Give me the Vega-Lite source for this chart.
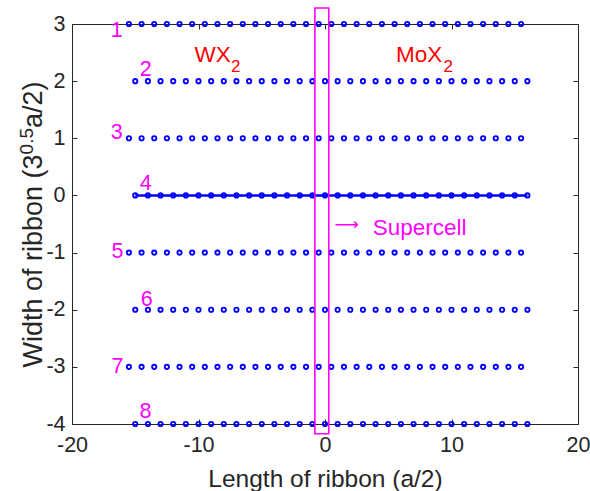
{
"$schema": "https://vega.github.io/schema/vega-lite/v6.json",
"width": 506, "height": 400,
"autosize": {"type": "none"},
"padding": {"left": 72, "top": 24, "right": 12, "bottom": 67},
"background": "white",
"config": {
 "view": {"stroke": null},
 "font": "Liberation Sans",
 "axis": {"grid": false, "domainColor": "#262626", "domainWidth": 1, "tickColor": "#262626", "tickWidth": 1, "tickSize": -5,
  "labelColor": "#262626", "labelFont": "Liberation Sans", "labelFontSize": 21.5, "titleFont": "Liberation Sans", "titleFontSize": 24.5,
  "titleFontWeight": "normal", "titleColor": "#262626", "labelFlush": false, "labelOverlap": false, "labelExpr": "'' + datum.value"}
},
"datasets": {
 "atoms": [
{"x":-15.5,"y":3},{"x":-14.5,"y":3},{"x":-13.5,"y":3},{"x":-12.5,"y":3},{"x":-11.5,"y":3},{"x":-10.5,"y":3},{"x":-9.5,"y":3},{"x":-8.5,"y":3},{"x":-7.5,"y":3},{"x":-6.5,"y":3},{"x":-5.5,"y":3},{"x":-4.5,"y":3},{"x":-3.5,"y":3},{"x":-2.5,"y":3},{"x":-1.5,"y":3},{"x":-0.5,"y":3},{"x":0.5,"y":3},{"x":1.5,"y":3},{"x":2.5,"y":3},{"x":3.5,"y":3},{"x":4.5,"y":3},{"x":5.5,"y":3},{"x":6.5,"y":3},{"x":7.5,"y":3},{"x":8.5,"y":3},{"x":9.5,"y":3},{"x":10.5,"y":3},{"x":11.5,"y":3},{"x":12.5,"y":3},{"x":13.5,"y":3},{"x":14.5,"y":3},{"x":15.5,"y":3},
{"x":-15,"y":2},{"x":-14,"y":2},{"x":-13,"y":2},{"x":-12,"y":2},{"x":-11,"y":2},{"x":-10,"y":2},{"x":-9,"y":2},{"x":-8,"y":2},{"x":-7,"y":2},{"x":-6,"y":2},{"x":-5,"y":2},{"x":-4,"y":2},{"x":-3,"y":2},{"x":-2,"y":2},{"x":-1,"y":2},{"x":0,"y":2},{"x":1,"y":2},{"x":2,"y":2},{"x":3,"y":2},{"x":4,"y":2},{"x":5,"y":2},{"x":6,"y":2},{"x":7,"y":2},{"x":8,"y":2},{"x":9,"y":2},{"x":10,"y":2},{"x":11,"y":2},{"x":12,"y":2},{"x":13,"y":2},{"x":14,"y":2},{"x":15,"y":2},{"x":16,"y":2},
{"x":-15.5,"y":1},{"x":-14.5,"y":1},{"x":-13.5,"y":1},{"x":-12.5,"y":1},{"x":-11.5,"y":1},{"x":-10.5,"y":1},{"x":-9.5,"y":1},{"x":-8.5,"y":1},{"x":-7.5,"y":1},{"x":-6.5,"y":1},{"x":-5.5,"y":1},{"x":-4.5,"y":1},{"x":-3.5,"y":1},{"x":-2.5,"y":1},{"x":-1.5,"y":1},{"x":-0.5,"y":1},{"x":0.5,"y":1},{"x":1.5,"y":1},{"x":2.5,"y":1},{"x":3.5,"y":1},{"x":4.5,"y":1},{"x":5.5,"y":1},{"x":6.5,"y":1},{"x":7.5,"y":1},{"x":8.5,"y":1},{"x":9.5,"y":1},{"x":10.5,"y":1},{"x":11.5,"y":1},{"x":12.5,"y":1},{"x":13.5,"y":1},{"x":14.5,"y":1},{"x":15.5,"y":1},
{"x":-15,"y":0},{"x":-14,"y":0},{"x":-13,"y":0},{"x":-12,"y":0},{"x":-11,"y":0},{"x":-10,"y":0},{"x":-9,"y":0},{"x":-8,"y":0},{"x":-7,"y":0},{"x":-6,"y":0},{"x":-5,"y":0},{"x":-4,"y":0},{"x":-3,"y":0},{"x":-2,"y":0},{"x":-1,"y":0},{"x":0,"y":0},{"x":1,"y":0},{"x":2,"y":0},{"x":3,"y":0},{"x":4,"y":0},{"x":5,"y":0},{"x":6,"y":0},{"x":7,"y":0},{"x":8,"y":0},{"x":9,"y":0},{"x":10,"y":0},{"x":11,"y":0},{"x":12,"y":0},{"x":13,"y":0},{"x":14,"y":0},{"x":15,"y":0},{"x":16,"y":0},
{"x":-15.5,"y":-1},{"x":-14.5,"y":-1},{"x":-13.5,"y":-1},{"x":-12.5,"y":-1},{"x":-11.5,"y":-1},{"x":-10.5,"y":-1},{"x":-9.5,"y":-1},{"x":-8.5,"y":-1},{"x":-7.5,"y":-1},{"x":-6.5,"y":-1},{"x":-5.5,"y":-1},{"x":-4.5,"y":-1},{"x":-3.5,"y":-1},{"x":-2.5,"y":-1},{"x":-1.5,"y":-1},{"x":-0.5,"y":-1},{"x":0.5,"y":-1},{"x":1.5,"y":-1},{"x":2.5,"y":-1},{"x":3.5,"y":-1},{"x":4.5,"y":-1},{"x":5.5,"y":-1},{"x":6.5,"y":-1},{"x":7.5,"y":-1},{"x":8.5,"y":-1},{"x":9.5,"y":-1},{"x":10.5,"y":-1},{"x":11.5,"y":-1},{"x":12.5,"y":-1},{"x":13.5,"y":-1},{"x":14.5,"y":-1},{"x":15.5,"y":-1},
{"x":-15,"y":-2},{"x":-14,"y":-2},{"x":-13,"y":-2},{"x":-12,"y":-2},{"x":-11,"y":-2},{"x":-10,"y":-2},{"x":-9,"y":-2},{"x":-8,"y":-2},{"x":-7,"y":-2},{"x":-6,"y":-2},{"x":-5,"y":-2},{"x":-4,"y":-2},{"x":-3,"y":-2},{"x":-2,"y":-2},{"x":-1,"y":-2},{"x":0,"y":-2},{"x":1,"y":-2},{"x":2,"y":-2},{"x":3,"y":-2},{"x":4,"y":-2},{"x":5,"y":-2},{"x":6,"y":-2},{"x":7,"y":-2},{"x":8,"y":-2},{"x":9,"y":-2},{"x":10,"y":-2},{"x":11,"y":-2},{"x":12,"y":-2},{"x":13,"y":-2},{"x":14,"y":-2},{"x":15,"y":-2},{"x":16,"y":-2},
{"x":-15.5,"y":-3},{"x":-14.5,"y":-3},{"x":-13.5,"y":-3},{"x":-12.5,"y":-3},{"x":-11.5,"y":-3},{"x":-10.5,"y":-3},{"x":-9.5,"y":-3},{"x":-8.5,"y":-3},{"x":-7.5,"y":-3},{"x":-6.5,"y":-3},{"x":-5.5,"y":-3},{"x":-4.5,"y":-3},{"x":-3.5,"y":-3},{"x":-2.5,"y":-3},{"x":-1.5,"y":-3},{"x":-0.5,"y":-3},{"x":0.5,"y":-3},{"x":1.5,"y":-3},{"x":2.5,"y":-3},{"x":3.5,"y":-3},{"x":4.5,"y":-3},{"x":5.5,"y":-3},{"x":6.5,"y":-3},{"x":7.5,"y":-3},{"x":8.5,"y":-3},{"x":9.5,"y":-3},{"x":10.5,"y":-3},{"x":11.5,"y":-3},{"x":12.5,"y":-3},{"x":13.5,"y":-3},{"x":14.5,"y":-3},{"x":15.5,"y":-3},
{"x":-15,"y":-4},{"x":-14,"y":-4},{"x":-13,"y":-4},{"x":-12,"y":-4},{"x":-11,"y":-4},{"x":-10,"y":-4},{"x":-9,"y":-4},{"x":-8,"y":-4},{"x":-7,"y":-4},{"x":-6,"y":-4},{"x":-5,"y":-4},{"x":-4,"y":-4},{"x":-3,"y":-4},{"x":-2,"y":-4},{"x":-1,"y":-4},{"x":0,"y":-4},{"x":1,"y":-4},{"x":2,"y":-4},{"x":3,"y":-4},{"x":4,"y":-4},{"x":5,"y":-4},{"x":6,"y":-4},{"x":7,"y":-4},{"x":8,"y":-4},{"x":9,"y":-4},{"x":10,"y":-4},{"x":11,"y":-4},{"x":12,"y":-4},{"x":13,"y":-4},{"x":14,"y":-4},{"x":15,"y":-4},{"x":16,"y":-4}
 ],
 "rowLabels": [{"x":-16.47,"y":2.78,"t":"1"},{"x":-14.17,"y":2.09,"t":"2"},{"x":-16.47,"y":0.98,"t":"3"},{"x":-14.17,"y":0.09,"t":"4"},{"x":-16.4,"y":-1.1,"t":"5"},{"x":-14.1,"y":-1.93,"t":"6"},{"x":-16.4,"y":-3.11,"t":"7"},{"x":-14.2,"y":-3.9,"t":"8"}],
 "materials": [{"x":-8.88,"y":2.34,"t":"WX"},{"x":7.45,"y":2.34,"t":"MoX"}],
 "materialSubs": [{"x":-7.06,"y":2.155,"t":"2"},{"x":9.75,"y":2.155,"t":"2"}],
 "supercell": [{"x1":-0.8,"x2":0.3,"y1":-4.17,"y2":3.28}],
 "supercellArrow": [{"x":0.75,"y":-0.6,"t":"⟶"}],
 "supercellLabel": [{"x":3.77,"y":-0.69,"t":"Supercell"}],
 "yTitleMain": [{"x":-22.37,"y":0.718,"t":"Width of ribbon (3"}],
 "yTitleSup": [{"x":-23.08,"y":0.718,"t":"0.5"}],
 "yTitleEnd": [{"x":-22.37,"y":1.18,"t":"a/2)"}]
},
"encoding": {
 "x": {"field": "x", "type": "quantitative", "scale": {"domain": [-20, 20], "nice": false, "zero": false}, "axis": null},
 "y": {"field": "y", "type": "quantitative", "scale": {"domain": [-4, 3], "nice": false, "zero": false}, "axis": null}
},
"layer": [
 {"data": {"name": "atoms"}, "transform": [{"filter": "datum.y == 0"}],
  "mark": {"type": "line", "color": "#0000ff", "strokeWidth": 2.5}},
 {"data": {"name": "atoms"},
  "mark": {"type": "point", "shape": "circle", "filled": false, "stroke": "#0000ff", "strokeWidth": 1.9, "size": 18, "opacity": 1},
  "encoding": {
   "x": {"field": "x", "type": "quantitative", "scale": {"domain": [-20, 20], "nice": false, "zero": false},
    "axis": {"orient": "bottom", "values": [-20, -10, 0, 10, 20], "title": "Length of ribbon (a/2)", "labelPadding": 15, "titleY": 62, "titleBaseline": "alphabetic"}},
   "y": {"field": "y", "type": "quantitative", "scale": {"domain": [-4, 3], "nice": false, "zero": false},
    "axis": {"orient": "left", "values": [-4, -3, -2, -1, 0, 1, 2, 3], "title": null, "labelPadding": 12}}
  }},
 {"data": {"name": "supercell"},
  "mark": {"type": "rect", "fill": null, "fillOpacity": 0, "stroke": "#ff00ff", "strokeWidth": 1.6},
  "encoding": {
   "x": {"field": "x1", "type": "quantitative", "scale": {"domain": [-20, 20], "nice": false, "zero": false},
    "axis": {"orient": "top", "values": [-20, -10, 0, 10, 20], "labels": false, "title": null}},
   "x2": {"field": "x2"},
   "y": {"field": "y1", "type": "quantitative", "scale": {"domain": [-4, 3], "nice": false, "zero": false},
    "axis": {"orient": "right", "values": [-4, -3, -2, -1, 0, 1, 2, 3], "labels": false, "title": null}},
   "y2": {"field": "y2"}
  }},
 {"data": {"name": "rowLabels"},
  "mark": {"type": "text", "color": "#ff00ff", "fontSize": 21.5, "font": "Liberation Sans", "align": "center", "baseline": "alphabetic"},
  "encoding": {"text": {"field": "t"}}},
 {"data": {"name": "materials"},
  "mark": {"type": "text", "color": "#ff0000", "fontSize": 22.5, "font": "Liberation Sans", "align": "center", "baseline": "alphabetic"},
  "encoding": {"text": {"field": "t"}}},
 {"data": {"name": "materialSubs"},
  "mark": {"type": "text", "color": "#ff0000", "fontSize": 17, "font": "Liberation Sans", "align": "center", "baseline": "alphabetic"},
  "encoding": {"text": {"field": "t"}}},
 {"data": {"name": "supercellArrow"},
  "mark": {"type": "text", "color": "#ff00ff", "fontSize": 17, "font": "DejaVu Sans", "align": "left", "baseline": "alphabetic"},
  "encoding": {"text": {"field": "t"}}},
 {"data": {"name": "supercellLabel"},
  "mark": {"type": "text", "color": "#ff00ff", "fontSize": 22.5, "font": "Liberation Sans", "align": "left", "baseline": "alphabetic"},
  "encoding": {"text": {"field": "t"}}},
 {"data": {"name": "yTitleMain"},
  "mark": {"type": "text", "color": "#262626", "fontSize": 27, "font": "Liberation Sans", "align": "right", "baseline": "alphabetic", "angle": 270},
  "encoding": {"text": {"field": "t"}}},
 {"data": {"name": "yTitleSup"},
  "mark": {"type": "text", "color": "#262626", "fontSize": 19, "font": "Liberation Sans", "align": "left", "baseline": "alphabetic", "angle": 270},
  "encoding": {"text": {"field": "t"}}},
 {"data": {"name": "yTitleEnd"},
  "mark": {"type": "text", "color": "#262626", "fontSize": 27, "font": "Liberation Sans", "align": "left", "baseline": "alphabetic", "angle": 270},
  "encoding": {"text": {"field": "t"}}}
],
"resolve": {"axis": {"x": "independent", "y": "independent"}}
}
